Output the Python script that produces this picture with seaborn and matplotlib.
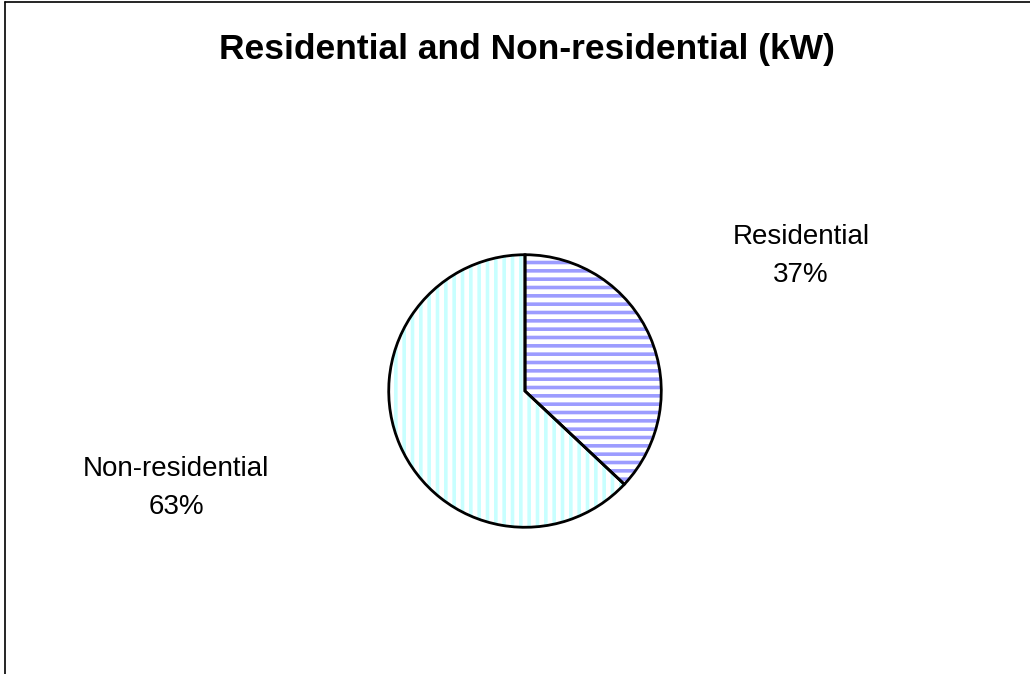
import matplotlib
matplotlib.use("Agg")
import matplotlib.pyplot as plt
import seaborn as sns
from matplotlib.lines import Line2D

sns.set_theme(style="white")
plt.rcParams['font.family'] = ['Liberation Sans', 'DejaVu Sans']
plt.rcParams['text.color'] = 'black'
plt.rcParams['hatch.linewidth'] = 2.6

title = "Residential and Non-residential (kW)"
categories = ["Residential", "Non-residential"]
shares = [37, 63]
stripe_colors = ["#9c9cff", "#c8ffff"]
hatches = ["--", "||"]

W, H = 1030, 674
fig = plt.figure(figsize=(W / 100, H / 100), dpi=100)
fig.patch.set_facecolor("white")

# outer chart border (left and top visible)
fig.add_artist(Line2D([4.5 / W, 4.5 / W], [0, 1 - 2 / H], transform=fig.transFigure,
                      color="black", lw=1.2))
fig.add_artist(Line2D([4.5 / W, 1], [1 - 2 / H, 1 - 2 / H], transform=fig.transFigure,
                      color="black", lw=1.2))

cx, cy, r = 525, 391, 139
ax = fig.add_axes([(cx - r) / W, (H - cy - r) / H, 2 * r / W, 2 * r / H])
ax.set_axis_off()

wedges, _ = ax.pie(shares, startangle=90, counterclock=False, radius=1,
                   colors=["white", "white"],
                   wedgeprops=dict(linewidth=0))
for w, hc, h in zip(wedges, stripe_colors, hatches):
    w.set_hatch(h)
    w.set_edgecolor(hc)

ax.pie(shares, startangle=90, counterclock=False, radius=1,
       wedgeprops=dict(fill=False, edgecolor="black", linewidth=2))
ax.set_xlim(-1.02, 1.02)
ax.set_ylim(-1.02, 1.02)
ax.set_aspect("equal")

fig.text(527 / W, 1 - 50 / H, title, ha="center", va="center",
         fontsize=25.5, fontweight="bold", color="black")

label_pos = [(801, 256), (176, 488)]
for cat, s, (lx, ly) in zip(categories, shares, label_pos):
    fig.text(lx / W, 1 - ly / H, f"{cat}\n{s}%", ha="center", va="center",
             fontsize=20, linespacing=1.6, color="black")

fig.savefig("out.png", dpi=100, facecolor="white")
